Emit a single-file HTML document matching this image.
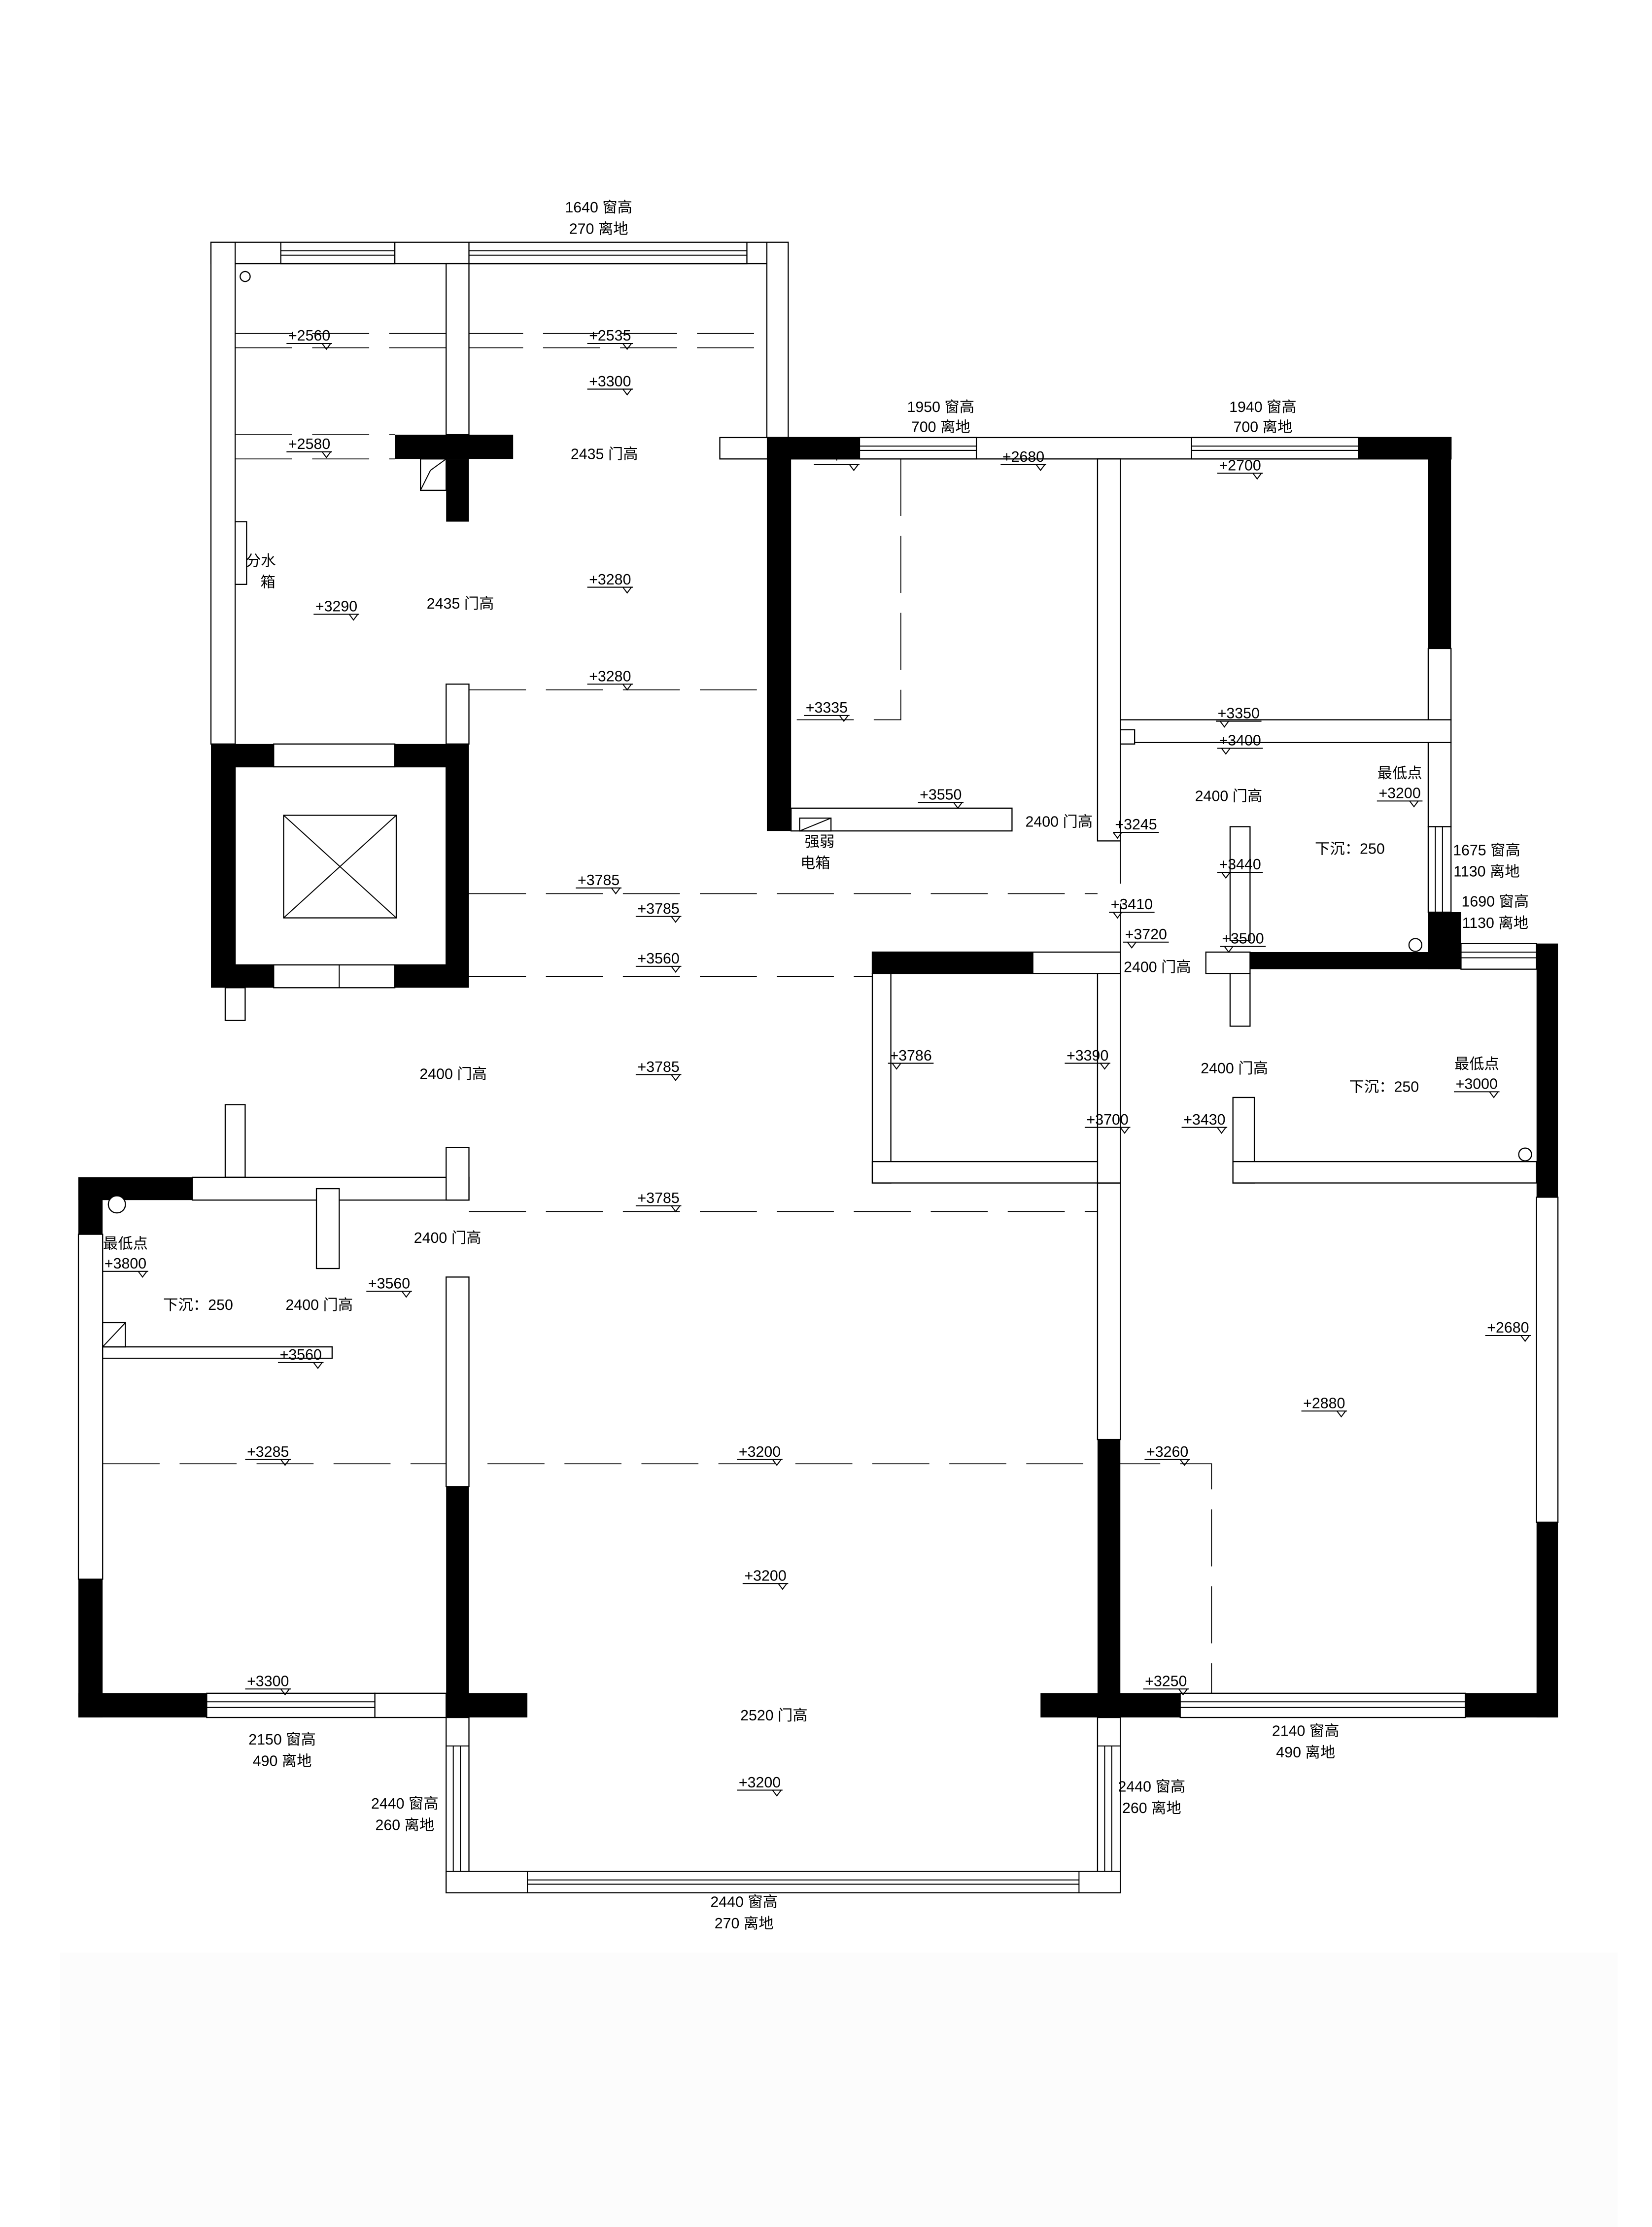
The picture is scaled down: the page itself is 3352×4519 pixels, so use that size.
<!DOCTYPE html>
<html><head><meta charset="utf-8"><style>
html,body{margin:0;padding:0;background:#fff}
svg{display:block}
text{font-family:"Liberation Sans","Noto Sans CJK SC",sans-serif;font-size:10.5px;fill:#000;text-anchor:middle}
.w{fill:#fff;stroke:#000;stroke-width:0.8}
.b{fill:#000}
.l{stroke:#000;stroke-width:0.7;fill:none}
.d{stroke:#000;stroke-width:0.6;fill:none;stroke-dasharray:40 14}
</style></head><body>
<svg width="3352" height="4519" viewBox="0 0 1159 1562.5" xmlns="http://www.w3.org/2000/svg">
<rect x="0" y="0" width="1159" height="1563" fill="#fff"/>
<rect x="42" y="1370" width="1093" height="193" fill="#fcfcfc"/>

<!-- dashed -->
<path class="d" d="M165 234H538M165 244H538M165 305H277M165 322H277M329 484H538M329 627H770M329 685H612M329 850H770M72 1027H850V1188M632 322V505H555M786 580V745"/>

<!-- top-left block walls -->
<rect class="w" x="148" y="170" width="405" height="15"/>
<rect class="w" x="148" y="170" width="17" height="352"/>
<rect class="w" x="538" y="170" width="15" height="137"/>
<rect class="w" x="313" y="185" width="16" height="120"/>
<rect class="w" x="313" y="480" width="16" height="42"/>
<rect class="w" x="197" y="170" width="80" height="15"/><path class="l" d="M197 176H277M197 179H277"/>
<rect class="w" x="329" y="170" width="195" height="15"/><path class="l" d="M329 176H524M329 179H524"/>
<rect class="b" x="277" y="305" width="83" height="17"/>
<rect class="b" x="313" y="322" width="16" height="44"/>
<rect class="w" x="295" y="322" width="18" height="22"/><path class="l" d="M295 344L302 330L313 322"/>
<circle class="w" cx="172" cy="194" r="3.5"/>
<rect class="w" x="165" y="366" width="8" height="44"/>

<!-- elevator -->
<rect class="b" x="148" y="522" width="181" height="171"/>
<rect class="w" x="165" y="538" width="148" height="139"/>
<rect class="w" x="199" y="572" width="79" height="72"/><path class="l" d="M199 572L278 644M278 572L199 644"/>
<rect class="w" x="192" y="522" width="85" height="16"/>
<rect class="w" x="192" y="677" width="85" height="16"/><path class="l" d="M238 677V693"/>
<rect class="w" x="158" y="693" width="14" height="23"/>

<!-- middle bedrooms -->
<rect class="w" x="505" y="307" width="513" height="15"/>
<rect class="b" x="538" y="307" width="17" height="276"/>
<rect class="b" x="538" y="307" width="65" height="15"/>
<rect class="w" x="603" y="307" width="82" height="15"/><path class="l" d="M603 313H685M603 316H685"/>
<rect class="w" x="836" y="307" width="117" height="15"/><path class="l" d="M836 313H953M836 316H953"/>
<rect class="b" x="953" y="307" width="65" height="15"/>
<rect class="b" x="1002" y="307" width="16" height="148"/>
<rect class="w" x="770" y="322" width="16" height="268"/>
<rect class="w" x="555" y="567" width="155" height="16"/>
<rect class="w" x="561" y="574" width="22" height="9"/><path class="l" d="M561 583L583 574"/>
<rect class="w" x="1002" y="455" width="16" height="50"/>
<rect class="w" x="786" y="505" width="232" height="16"/>
<rect class="w" x="786" y="512" width="10" height="10"/>
<rect class="w" x="1002" y="521" width="16" height="59"/>
<rect class="w" x="1002" y="580" width="16" height="60"/><path class="l" d="M1007 580V640M1012 580V640"/>
<rect class="b" x="1002" y="640" width="23" height="40"/>
<circle class="w" cx="993" cy="663" r="4.5"/>
<rect class="w" x="863" y="580" width="14" height="80"/>

<!-- lower right room -->
<rect class="b" x="877" y="668" width="201" height="12"/>
<rect class="w" x="846" y="668" width="31" height="15"/>
<rect class="w" x="863" y="683" width="14" height="37"/>
<rect class="w" x="1025" y="662" width="53" height="18"/><path class="l" d="M1025 668H1078M1025 672H1078"/>
<rect class="b" x="1078" y="662" width="15" height="178"/>
<rect class="w" x="1078" y="840" width="15" height="228"/>
<rect class="b" x="1078" y="1068" width="15" height="137"/>
<rect class="b" x="1028" y="1188" width="65" height="17"/>
<rect class="w" x="828" y="1188" width="200" height="17"/><path class="l" d="M828 1194H1028M828 1198H1028"/>
<rect class="b" x="730" y="1188" width="98" height="17"/>
<rect class="w" x="770" y="830" width="16" height="180"/>
<rect class="b" x="770" y="1010" width="16" height="180"/>
<rect class="w" x="865" y="770" width="15" height="60"/>
<rect class="w" x="865" y="815" width="213" height="15"/>
<circle class="w" cx="1070" cy="810" r="4.5"/>

<!-- small room -->
<rect class="w" x="612" y="668" width="174" height="15"/>
<rect class="b" x="612" y="668" width="113" height="15"/>
<rect class="w" x="612" y="683" width="13" height="147"/>
<rect class="w" x="612" y="815" width="174" height="15"/>
<rect class="w" x="770" y="683" width="16" height="147"/>

<!-- lower left room -->
<rect class="w" x="158" y="775" width="14" height="51"/>
<rect class="w" x="135" y="826" width="194" height="16"/>
<rect class="b" x="55" y="826" width="80" height="16"/>
<rect class="w" x="313" y="805" width="16" height="37"/>
<rect class="b" x="55" y="826" width="17" height="40"/>
<rect class="w" x="55" y="866" width="17" height="242"/>
<rect class="b" x="55" y="1108" width="17" height="97"/>
<circle class="w" cx="82" cy="845" r="6"/>
<rect class="w" x="222" y="834" width="16" height="56"/>
<rect class="w" x="72" y="945" width="161" height="8"/>
<rect class="w" x="72" y="928" width="16" height="17"/><path class="l" d="M72 945L88 928"/>
<rect class="w" x="313" y="896" width="16" height="147"/>
<rect class="b" x="313" y="1043" width="16" height="147"/>
<rect class="b" x="55" y="1188" width="90" height="17"/>
<rect class="w" x="145" y="1188" width="118" height="17"/><path class="l" d="M145 1194H263M145 1198H263"/>
<rect class="w" x="263" y="1188" width="50" height="17"/>
<rect class="b" x="313" y="1188" width="57" height="17"/>

<!-- bay window -->
<rect class="w" x="313" y="1205" width="16" height="123"/><path class="l" d="M318 1225V1313M323 1225V1313M313 1225H329"/>
<rect class="w" x="770" y="1205" width="16" height="123"/><path class="l" d="M775 1225V1313M780 1225V1313M770 1225H786"/>
<rect class="w" x="313" y="1313" width="473" height="15"/>
<path class="l" d="M370 1313V1328M757 1313V1328M370 1319H757M370 1322H757"/>

<!-- labels -->
<g>
<text x="420" y="149">1640 窗高</text><text x="420" y="164">270 离地</text>
<text x="660" y="289">1950 窗高</text><text x="660" y="303">700 离地</text>
<text x="886" y="289">1940 窗高</text><text x="886" y="303">700 离地</text>
<text x="424" y="322">2435 门高</text>
<text x="323" y="427">2435 门高</text>
<text x="183" y="397">分水</text><text x="188" y="412">箱</text>
<text x="743" y="580">2400 门高</text>
<text x="575" y="594">强弱</text><text x="572" y="609">电箱</text>
<text x="862" y="562">2400 门高</text>
<text x="982" y="546">最低点</text>
<text x="947" y="599">下沉：250</text>
<text x="1043" y="600">1675 窗高</text><text x="1043" y="615">1130 离地</text>
<text x="1049" y="636">1690 窗高</text><text x="1049" y="651">1130 离地</text>
<text x="812" y="682">2400 门高</text>
<text x="318" y="757">2400 门高</text>
<text x="866" y="753">2400 门高</text>
<text x="1036" y="750">最低点</text>
<text x="971" y="766">下沉：250</text>
<text x="314" y="872">2400 门高</text>
<text x="88" y="876">最低点</text>
<text x="139" y="919">下沉：250</text>
<text x="224" y="919">2400 门高</text>
<text x="543" y="1207">2520 门高</text>
<text x="198" y="1224">2150 窗高</text><text x="198" y="1239">490 离地</text>
<text x="916" y="1218">2140 窗高</text><text x="916" y="1233">490 离地</text>
<text x="284" y="1269">2440 窗高</text><text x="284" y="1284">260 离地</text>
<text x="808" y="1257">2440 窗高</text><text x="808" y="1272">260 离地</text>
<text x="522" y="1338">2440 窗高</text><text x="522" y="1353">270 离地</text>
</g>
<g>
<text x="217" y="239">+2560</text><path class="l" d="M201 241H233M226 241l3 4l3-4"/>
<text x="428" y="239">+2535</text><path class="l" d="M412 241H444M437 241l3 4l3-4"/>
<text x="428" y="271">+3300</text><path class="l" d="M412 273H444M437 273l3 4l3-4"/>
<text x="217" y="315">+2580</text><path class="l" d="M201 317H233M226 317l3 4l3-4"/>
<text x="236" y="429">+3290</text><path class="l" d="M220 431H252M245 431l3 4l3-4"/>
<text x="428" y="410">+3280</text><path class="l" d="M412 412H444M437 412l3 4l3-4"/>
<text x="428" y="478">+3280</text><path class="l" d="M412 480H444M437 480l3 4l3-4"/>
<text x="587" y="324">+</text><path class="l" d="M571 326H603M596 326l3 4l3-4"/>
<text x="718" y="324">+2680</text><path class="l" d="M702 326H734M727 326l3 4l3-4"/>
<text x="870" y="330">+2700</text><path class="l" d="M854 332H886M879 332l3 4l3-4"/>
<text x="580" y="500">+3335</text><path class="l" d="M564 502H596M589 502l3 4l3-4"/>
<text x="660" y="561">+3550</text><path class="l" d="M644 563H676M669 563l3 4l3-4"/>
<text x="797" y="582">+3245</text><path class="l" d="M781 584H813M781 584l3 4l3-4"/>
<text x="869" y="504">+3350</text><path class="l" d="M853 506H885M856 506l3 4l3-4"/>
<text x="870" y="523">+3400</text><path class="l" d="M854 525H886M857 525l3 4l3-4"/>
<text x="982" y="560">+3200</text><path class="l" d="M966 562H998M989 562l3 4l3-4"/>
<text x="870" y="610">+3440</text><path class="l" d="M854 612H886M857 612l3 4l3-4"/>
<text x="794" y="638">+3410</text><path class="l" d="M778 640H810M781 640l3 4l3-4"/>
<text x="804" y="659">+3720</text><path class="l" d="M788 661H820M791 661l3 4l3-4"/>
<text x="872" y="662">+3500</text><path class="l" d="M856 664H888M859 664l3 4l3-4"/>
<text x="420" y="621">+3785</text><path class="l" d="M404 623H436M429 623l3 4l3-4"/>
<text x="462" y="641">+3785</text><path class="l" d="M446 643H478M471 643l3 4l3-4"/>
<text x="462" y="676">+3560</text><path class="l" d="M446 678H478M471 678l3 4l3-4"/>
<text x="462" y="752">+3785</text><path class="l" d="M446 754H478M471 754l3 4l3-4"/>
<text x="639" y="744">+3786</text><path class="l" d="M623 746H655M626 746l3 4l3-4"/>
<text x="763" y="744">+3390</text><path class="l" d="M747 746H779M772 746l3 4l3-4"/>
<text x="1036" y="764">+3000</text><path class="l" d="M1020 766H1052M1045 766l3 4l3-4"/>
<text x="777" y="789">+3700</text><path class="l" d="M761 791H793M786 791l3 4l3-4"/>
<text x="845" y="789">+3430</text><path class="l" d="M829 791H861M854 791l3 4l3-4"/>
<text x="462" y="844">+3785</text><path class="l" d="M446 846H478M471 846l3 4l3-4"/>
<text x="88" y="890">+3800</text><path class="l" d="M72 892H104M97 892l3 4l3-4"/>
<text x="273" y="904">+3560</text><path class="l" d="M257 906H289M282 906l3 4l3-4"/>
<text x="211" y="954">+3560</text><path class="l" d="M195 956H227M220 956l3 4l3-4"/>
<text x="1058" y="935">+2680</text><path class="l" d="M1042 937H1074M1067 937l3 4l3-4"/>
<text x="929" y="988">+2880</text><path class="l" d="M913 990H945M938 990l3 4l3-4"/>
<text x="188" y="1022">+3285</text><path class="l" d="M172 1024H204M197 1024l3 4l3-4"/>
<text x="533" y="1022">+3200</text><path class="l" d="M517 1024H549M542 1024l3 4l3-4"/>
<text x="819" y="1022">+3260</text><path class="l" d="M803 1024H835M828 1024l3 4l3-4"/>
<text x="537" y="1109">+3200</text><path class="l" d="M521 1111H553M546 1111l3 4l3-4"/>
<text x="188" y="1183">+3300</text><path class="l" d="M172 1185H204M197 1185l3 4l3-4"/>
<text x="818" y="1183">+3250</text><path class="l" d="M802 1185H834M827 1185l3 4l3-4"/>
<text x="533" y="1254">+3200</text><path class="l" d="M517 1256H549M542 1256l3 4l3-4"/>
</g>
</svg>
</body></html>
